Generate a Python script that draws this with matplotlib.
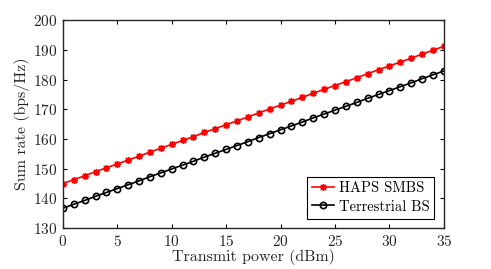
import matplotlib
matplotlib.use("Agg")
import matplotlib.pyplot as plt

plt.rcParams['font.family'] = 'serif'
plt.rcParams['font.serif'] = ['cmr10', 'DejaVu Serif']
plt.rcParams['axes.formatter.use_mathtext'] = True
plt.rcParams['mathtext.fontset'] = 'cm'

# transmit power (dBm)
power = list(range(0, 36))

# sum rate (bps/Hz)
haps_smbs = [145.0, 146.3, 147.6, 149.0, 150.3, 151.6, 152.9, 154.2, 155.6, 156.9,
             158.2, 159.5, 160.8, 162.2, 163.5, 164.8, 166.1, 167.4, 168.8, 170.1,
             171.4, 172.7, 174.0, 175.4, 176.7, 178.0, 179.3, 180.6, 182.0, 183.3,
             184.6, 185.9, 187.2, 188.6, 189.9, 191.2]
terrestrial_bs = [136.7, 138.0, 139.3, 140.7, 142.0, 143.3, 144.6, 145.9, 147.3, 148.6,
                  149.9, 151.2, 152.5, 153.9, 155.2, 156.5, 157.8, 159.1, 160.5, 161.8,
                  163.1, 164.4, 165.7, 167.1, 168.4, 169.7, 171.0, 172.3, 173.7, 175.0,
                  176.3, 177.6, 178.9, 180.3, 181.6, 182.9]

x_ticks = [0, 5, 10, 15, 20, 25, 30, 35]
y_ticks = [130, 140, 150, 160, 170, 180, 190, 200]

fig = plt.figure(figsize=(4.91, 2.69), dpi=100)
ax = fig.add_axes([0.128, 0.152, 0.776, 0.773])

ax.plot(power, haps_smbs, color='red', linewidth=1.2, marker=(8, 2, 0),
        markersize=5, markeredgewidth=1.0, label='HAPS SMBS')
ax.plot(power, terrestrial_bs, color='black', linewidth=1.2, marker='o',
        markersize=4.5, markerfacecolor='none', markeredgewidth=1.2,
        label='Terrestrial BS')

ax.set_xlim(0, 35)
ax.set_ylim(130, 200)
ax.set_xticks(x_ticks)
ax.set_yticks(y_ticks)
ax.tick_params(direction='in', top=True, right=True, labelsize=11, length=3,
               width=0.8, pad=4, labelcolor='#262626')
for s in ax.spines.values():
    s.set_linewidth(1.0)
    s.set_color('#262626')

ax.set_xlabel('Transmit power (dBm)', fontsize=11.5, labelpad=0, color='#262626')
ax.set_ylabel('Sum rate (bps/Hz)', fontsize=11.5, labelpad=2, color='#262626')

leg = ax.legend(loc='lower right', fontsize=10.5, fancybox=False, framealpha=1,
                edgecolor='black', handlelength=1.5, handletextpad=0.3,
                borderpad=0.35, labelspacing=0.3, borderaxespad=0.65)
leg.get_frame().set_linewidth(0.8)

fig.savefig('out.png', dpi=100)
